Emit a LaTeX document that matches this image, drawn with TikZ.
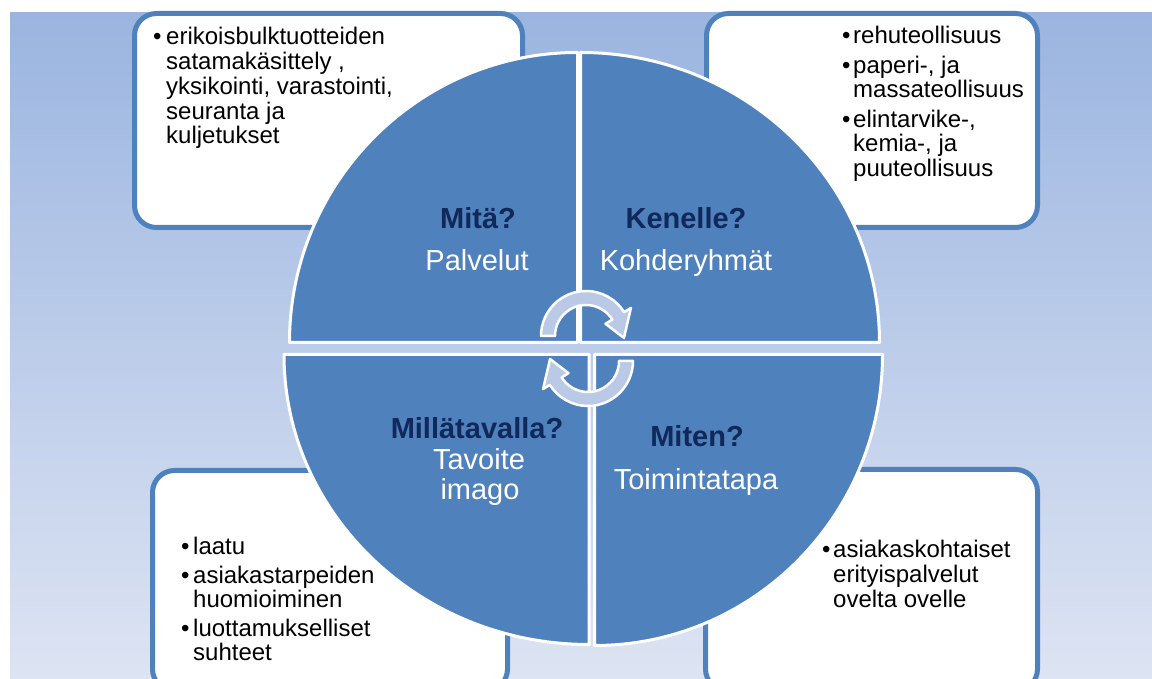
\documentclass[tikz,border=0pt]{standalone}
\usepackage{fontspec}
\setmainfont{Liberation Sans}

\definecolor{quadblue}{HTML}{4F81BD}
\definecolor{bgtop}{HTML}{9BB5E0}
\definecolor{bgbottom}{HTML}{DDE4F3}
\definecolor{navy}{HTML}{10285A}
\definecolor{arrowfill}{HTML}{B9C9E6}

% bullet list as a top-aligned table; #1 = indent of the text after the bullet
\newcommand{\blist}[2]{\begin{tabular}[t]{@{}l@{}l@{}}#2\end{tabular}}
\newcommand{\bul}[1]{\makebox[#1][l]{\textbullet}}

\begin{document}
\begin{tikzpicture}[x=1pt,y=1pt,
  infobox/.style={draw=quadblue, line width=5pt, fill=white, rounded corners=22pt},
  quadrant/.style={fill=quadblue, draw=white, line width=3pt, line join=round},
  cyclearrow/.style={fill=arrowfill, draw=white, line width=2.5pt, line join=round},
  question/.style={font=\fontsize{29}{32}\selectfont\bfseries, text=navy, inner sep=0pt, anchor=base},
  answer/.style={font=\fontsize{29}{32}\selectfont, text=white, inner sep=0pt, anchor=base},
  bullets/.style={font=\fontsize{24}{24.5}\selectfont, inner sep=0pt, anchor=base west}
]
% page and backdrop
\fill[white] (0,0) rectangle (1152,679);
\useasboundingbox (0,0) rectangle (1152,679);
\clip (0,0) rectangle (1152,679);
\shade[top color=bgtop, bottom color=bgbottom] (10,0) rectangle (1152,666);

% four information boxes
\draw[infobox] (134.5,451.5) rectangle (522.5,665.5);
\draw[infobox] (706.5,451.5) rectangle (1037.5,665.5);
\draw[infobox] (152.5,208.5) rectangle (507.5,-12);
\draw[infobox] (705.5,209.5) rectangle (1037.5,-12);

% quadrants of the circle
\filldraw[quadrant] (577.5,336.5) -- ++(-288,0) arc[start angle=180, end angle=90, x radius=288, y radius=290] -- cycle;
\filldraw[quadrant] (580.5,336.5) -- ++(0,290) arc[start angle=90, end angle=0, x radius=299, y radius=290] -- cycle;
\filldraw[quadrant] (589,324.5) -- ++(0,-290) arc[start angle=270, end angle=180, x radius=305, y radius=290] -- cycle;
\filldraw[quadrant] (594.5,324.5) -- ++(288,0) arc[start angle=0, end angle=-90, x radius=288, y radius=291] -- cycle;

% circular arrows in the middle
\begin{scope}[shift={(586,343)}]
  \filldraw[cyclearrow] (180:45) arc[start angle=180, end angle=32, radius=45]
    -- (32:53) -- (-3:38) -- (32:23) -- (32:31)
    arc[start angle=32, end angle=180, radius=31] -- cycle;
\end{scope}
\begin{scope}[shift={(588,318)}]
  \filldraw[cyclearrow] (0:45) arc[start angle=0, end angle=-148, radius=45]
    -- (-148:53) -- (-183:38) -- (-148:23) -- (-148:31)
    arc[start angle=-148, end angle=0, radius=31] -- cycle;
\end{scope}

% quadrant titles
\node[question] (what) at (478,450) {Mitä?};
\node[answer] (services) at (477,408) {Palvelut};
\node[question] (whom) at (686,450) {Kenelle?};
\node[answer] (targets) at (686,408) {Kohderyhmät};
\node[question] (manner) at (477,240) {Millätavalla?};
\node[answer] (goal) at (479,209) {Tavoite};
\node[answer] (image) at (480,179) {imago};
\node[question] (how) at (697,232) {Miten?};
\node[answer] (method) at (696,189) {Toimintatapa};

% bullet texts
\node[bullets] (svclist) at (153,634) {\blist{}{%
  \bul{13pt} & erikoisbulktuotteiden\\
  & satamakäsittely ,\\
  & yksikointi, varastointi,\\
  & seuranta ja\\
  & kuljetukset}};
\node[bullets] (grouplist) at (842,635) {\blist{}{%
  \bul{11pt} & rehuteollisuus\\[4.5pt]
  \bul{11pt} & paperi-, ja\\
  & massateollisuus\\[4.5pt]
  \bul{11pt} & elintarvike-,\\
  & kemia-, ja\\
  & puuteollisuus}};
\node[bullets] (imagelist) at (181,124) {\blist{}{%
  \bul{12pt} & laatu\\[3.5pt]
  \bul{12pt} & asiakastarpeiden\\
  & huomioiminen\\[3.5pt]
  \bul{12pt} & luottamukselliset\\
  & suhteet}};
\node[bullets] (methodlist) at (822,121) {\blist{}{%
  \bul{11pt} & asiakaskohtaiset\\
  & erityispalvelut\\
  & ovelta ovelle}};
\end{tikzpicture}
\end{document}
